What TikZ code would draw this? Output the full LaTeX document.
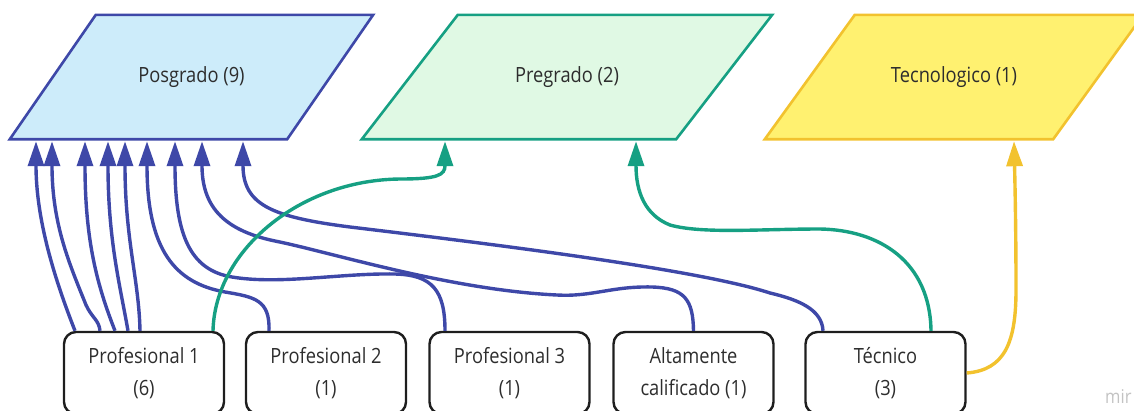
\documentclass[tikz,border=0pt]{standalone}
\usepackage{fontspec}
\setmainfont{Open Sans}[FakeStretch=0.87]
\usetikzlibrary{arrows.meta,backgrounds}
\definecolor{pblue}{RGB}{62,72,168}
\definecolor{pbluefill}{RGB}{205,236,250}
\definecolor{pgreen}{RGB}{22,160,131}
\definecolor{pgreenfill}{RGB}{224,249,228}
\definecolor{pyellow}{RGB}{242,194,46}
\definecolor{pyellowfill}{RGB}{255,241,112}
\definecolor{ptext}{RGB}{45,45,45}
\definecolor{pborder}{RGB}{30,30,30}
\tikzset{
  lbl/.style={font=\fontsize{21}{32}\selectfont, text=ptext, align=center, inner sep=0pt},
  para/.style={lbl, minimum height=124pt},
  stepbox/.style={lbl, draw=pborder, line width=2.4pt, rounded corners=12pt, minimum width=160pt, minimum height=82pt},
  conn/.style={line width=3.4pt, -{Triangle[length=25pt,width=16pt]}},
  bluec/.style={conn, draw=pblue},
  greenc/.style={conn, draw=pgreen},
  yellowc/.style={conn, draw=pyellow},
}
\begin{document}
\begin{tikzpicture}[x=1pt,y=-1pt]
\useasboundingbox (0,0) rectangle (1134,410);
% top shapes
\node[para, minimum width=277pt] (posg) at (191.5,77) {Posgrado (9)};
\node[para, minimum width=314pt] (preg) at (567,77) {Pregrado (2)};
\node[para, minimum width=288pt] (tecno) at (954,77) {Tecnologico (1)};
\begin{scope}[on background layer]
\draw[line width=2.6pt, draw=pblue, fill=pbluefill]
  ([xshift=-43pt]posg.south west) -- ([xshift=-43pt]posg.south east)
  -- ([xshift=43pt]posg.north east) -- ([xshift=43pt]posg.north west) -- cycle;
\draw[line width=2.6pt, draw=pgreen, fill=pgreenfill]
  ([xshift=-48pt]preg.south west) -- ([xshift=-48pt]preg.south east)
  -- ([xshift=48pt]preg.north east) -- ([xshift=48pt]preg.north west) -- cycle;
\draw[line width=2.6pt, draw=pyellow, fill=pyellowfill]
  ([xshift=-45pt]tecno.south west) -- ([xshift=-45pt]tecno.south east)
  -- ([xshift=45pt]tecno.north east) -- ([xshift=45pt]tecno.north west) -- cycle;
\end{scope}
% bottom boxes
\node[stepbox] (p1) at (144,373) {Profesional 1\\(6)};
\node[stepbox] (p2) at (326,373) {Profesional 2\\(1)};
\node[stepbox] (p3) at (509.5,373) {Profesional 3\\(1)};
\node[stepbox] (alt) at (693.5,373) {Altamente\\calificado (1)};
\node[stepbox] (tec) at (885.5,373) {Técnico\\(3)};
% watermark
\node[font=\fontsize{19}{19}\selectfont, text={rgb,255:red,195;green,195;blue,195}, anchor=base west, inner sep=0pt] (wm) at (1105,403) {mir};
% blue connectors to Posgrado
\draw[bluec] ([xshift=-69pt]p1.north) .. controls (55,280) and (36,220) .. ([xshift=-155.5pt,yshift=-2pt]posg.south);
\draw[bluec] ([xshift=-44pt]p1.north) .. controls (99,320) and (92,318) .. (86,305) .. controls (70,265) and (52,225) .. ([xshift=-139.5pt,yshift=-2pt]posg.south);
\draw[bluec] ([xshift=-29pt]p1.north) .. controls (97,285) and (85,240) .. ([xshift=-106.5pt,yshift=-2pt]posg.south);
\draw[bluec] ([xshift=-16pt]p1.north) .. controls (120,285) and (108,240) .. ([xshift=-83.5pt,yshift=-2pt]posg.south);
\draw[bluec] ([xshift=-4pt]p1.north) .. controls (139,280) and (125,240) .. ([xshift=-66.5pt,yshift=-2pt]posg.south);
\draw[bluec] ([xshift=-57pt]p2.north) .. controls (270,300) and (255,297) .. (225,292) .. controls (175,283) and (147,250) .. ([xshift=-44.5pt,yshift=-2pt]posg.south);
\draw[bluec] ([xshift=-64.5pt]p3.north) .. controls (445,290) and (432,275) .. (395,274) .. controls (340,273) and (280,285) .. (232,277) .. controls (190,270) and (175,235) .. ([xshift=-16.5pt,yshift=-2pt]posg.south);
\draw[bluec] (alt.north) .. controls (693,300) and (685,288) .. (652,287) .. controls (612,286) and (592,297) .. (557,295) .. controls (450,290) and (330,252) .. (275,241) .. controls (222,230) and (202,205) .. ([xshift=10.5pt,yshift=-2pt]posg.south);
\draw[bluec] ([xshift=-62.5pt]tec.north) .. controls (822,310) and (800,300) .. (770,293) .. controls (700,270) and (500,245) .. (350,227) .. controls (272,217) and (243,205) .. ([xshift=51.5pt,yshift=-2pt]posg.south);
% green connectors to Pregrado
\draw[greenc] ([xshift=69pt]p1.north) .. controls (215,250) and (300,180) .. (400,179) .. controls (438,179) and (445,175) .. ([xshift=-122pt,yshift=-2pt]preg.south);
\draw[greenc] ([xshift=45.5pt]tec.north) .. controls (930,262) and (880,230) .. (820,229) .. controls (760,229) and (702,234) .. (670,225) .. controls (645,215) and (636,192) .. ([xshift=69pt,yshift=-2pt]preg.south);
% yellow connector to Tecnologico
\draw[yellowc] (tec.east) .. controls (1005,370) and (1016,342) .. (1016,290) .. controls (1016,230) and (1015,185) .. ([xshift=60pt,yshift=-2pt]tecno.south);
\end{tikzpicture}
\end{document}
